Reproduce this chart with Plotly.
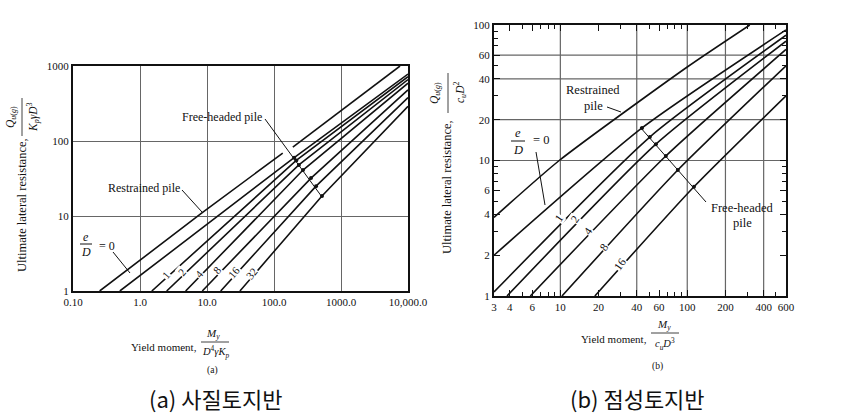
import plotly.graph_objects as go

W, H = 855, 419
SERIF = "Liberation Serif, Times New Roman, serif"
KR = "Noto Sans CJK KR, sans-serif"

# ---------------- (a) cohesionless soil ----------------
a_x_ticks = [0.1, 1, 10, 100, 1000, 10000]
a_x_ticktext = ["0.10", "1.0", "10.0", "100.0", "1000.0", "10,000.0"]
a_y_ticks = [1, 10, 100, 1000]
a_y_ticktext = ["1", "10", "100", "1000"]

a_rest_x = [0.25, 8.4, 135, None, 191, 7600]
a_rest_y = [1, 11, 69, None, 83, 1000]

a_ed = ["0", "1", "2", "4", "8", "16", "32"]
a_start_x = [0.5, 1.5, 2.5, 4.8, 8.5, 16, 31]
a_dot_x = [200, 215, 235, 271, 357, 424, 520]
a_dot_y = [60, 55, 48, 41, 32, 25, 18.5]
a_end_x = 10000
a_end_y = [780, 720, 660, 590, 480, 380, 290]

# ---------------- (b) cohesive soil ----------------
b_x_ticks = [3, 4, 6, 10, 20, 40, 60, 100, 200, 400, 600]
b_x_minor = [5, 7, 8, 9, 30, 50, 70, 80, 90, 300, 500]
b_y_ticks = [1, 2, 4, 6, 10, 20, 40, 60, 100]
b_y_minor = [3, 5, 7, 8, 9, 30, 50, 70, 80, 90]
b_vgrid = [10, 40, 100, 200, 400]
b_hgrid = [10, 20, 40, 60]

b_rest_x = [3, 9.8, 100, 311]
b_rest_y = [3.8, 10, 49, 100]

b_ed = ["0", "1", "2", "4", "8", "16"]
b_start_x = [3, 3, 3.8, 5.8, 10.3, 18.7]
b_start_y = [2.0, 1.07, 1, 1, 1, 1]
b_dot_x = [44, 50.7, 56.6, 67.8, 84.3, 113]
b_dot_y = [17.4, 14.9, 13.2, 10.8, 8.5, 6.4]
b_end_x = 600
b_end_y = [92, 84, 76, 66, 50, 30]

LINE = dict(color="#111", width=1.6)
SPL = dict(color="#111", width=1.6, shape="spline", smoothing=0.6)
GRID = "#666666"

fig = go.Figure()

# (b) grid lines (only at selected values)
gx, gy = [], []
for v in b_vgrid:
    gx += [v, v, None]
    gy += [1, 100, None]
for v in b_hgrid:
    gx += [3, 600, None]
    gy += [v, v, None]
fig.add_trace(go.Scatter(x=gx, y=gy, mode="lines", line=dict(color=GRID, width=1.2),
                         xaxis="x2", yaxis="y2", hoverinfo="skip", showlegend=False))

# (a) curves
fig.add_trace(go.Scatter(x=a_rest_x, y=a_rest_y, mode="lines", line=LINE,
                         xaxis="x", yaxis="y", showlegend=False, name="Restrained pile"))
for i, e in enumerate(a_ed):
    fig.add_trace(go.Scatter(x=[a_start_x[i], a_dot_x[i], a_end_x],
                             y=[1, a_dot_y[i], a_end_y[i]], mode="lines", line=LINE,
                             xaxis="x", yaxis="y", showlegend=False, name="e/D=" + e))
fig.add_trace(go.Scatter(x=a_dot_x, y=a_dot_y, mode="markers",
                         marker=dict(color="#111", size=4), xaxis="x", yaxis="y", showlegend=False))

# (b) curves
fig.add_trace(go.Scatter(x=b_rest_x, y=b_rest_y, mode="lines", line=SPL,
                         xaxis="x2", yaxis="y2", showlegend=False, name="Restrained pile"))
for i, e in enumerate(b_ed):
    fig.add_trace(go.Scatter(x=[b_start_x[i], b_dot_x[i], b_end_x],
                             y=[b_start_y[i], b_dot_y[i], b_end_y[i]], mode="lines", line=SPL,
                             xaxis="x2", yaxis="y2", showlegend=False, name="e/D=" + e))
fig.add_trace(go.Scatter(x=b_dot_x, y=b_dot_y, mode="markers",
                         marker=dict(color="#111", size=4), xaxis="x2", yaxis="y2", showlegend=False))


def px(x):
    return x / W


def py(y):
    return 1 - y / H


annotations = []
shapes = []


def ann(text, x, y, size=12, angle=0, font=SERIF, bg=None, xanchor="center"):
    d = dict(text=text, x=px(x), y=py(y), xref="paper", yref="paper", showarrow=False,
             font=dict(family=font, size=size, color="#111"), textangle=angle,
             xanchor=xanchor, yanchor="middle")
    if bg:
        d["bgcolor"] = bg
        d["borderpad"] = 0
    annotations.append(d)


def seg(x0, y0, x1, y1, w=1.0):
    shapes.append(dict(type="line", xref="paper", yref="paper", x0=px(x0), y0=py(y0),
                       x1=px(x1), y1=py(y1), line=dict(color="#111", width=w)))


# ---- (a) labels ----
ann("Free-headed pile", 222, 117)
seg(265, 119, 322, 197)
ann("Restrained pile", 144, 188)
seg(182, 190, 202, 212)
ann("<i>e</i>", 86, 237)
seg(80, 244, 92, 244)
ann("<i>D</i>", 86, 252)
ann("= 0", 107, 246)
seg(113, 252, 130, 273)
for t, (x, y) in zip(a_ed[1:], [(166, 275), (182, 272), (199, 274), (217, 270), (234, 272), (252, 273)]):
    ann(t, x, y, size=11, angle=-50, bg="white")

# axis titles (a)
ann("Ultimate lateral resistance,", 22, 205, size=12.5, angle=-90)
ann("<i>Q</i><sub><i>u</i>(<i>g</i>)</sub>", 11, 117, size=11.5, angle=-90)
seg(22, 98, 22, 136, 0.8)
ann("<i>K<sub>p</sub>γD</i><sup>3</sup>", 33, 117, size=11.5, angle=-90)

ann("Yield moment,", 199, 347, size=11, xanchor="right")
ann("<i>M<sub>y</sub></i>", 213, 334, size=11)
seg(201, 342, 229, 342, 0.8)
ann("<i>D</i><sup>4</sup><i>γK<sub>p</sub></i>", 215, 352, size=10.5)
ann("(a)", 212, 370, size=9.5)

# ---- (b) labels ----
ann("Restrained", 593, 90, size=12.5)
ann("pile", 593, 106, size=12.5)
seg(607, 107, 621, 112)
ann("Free-headed", 742, 208, size=12.5)
ann("pile", 742, 223, size=12.5)
seg(640, 127, 706, 202)
ann("<i>e</i>", 518, 133, size=12.5)
seg(511, 141, 525, 141)
ann("<i>D</i>", 518, 150, size=12.5)
ann("= 0", 541, 140, size=12.5)
seg(536, 152, 545, 205)
for t, (x, y) in zip(b_ed[1:], [(559, 218), (575, 219), (588, 231), (604, 247), (620, 264)]):
    ann(t, x, y, size=11.5, angle=-55, bg="white")

ann("Ultimate lateral resistance,", 447, 187, size=12.5, angle=-90)
ann("<i>Q</i><sub><i>u</i>(<i>g</i>)</sub>", 435, 93, size=11.5, angle=-90)
seg(448, 73, 448, 113, 0.8)
ann("<i>c<sub>u</sub>D</i><sup>2</sup>", 460, 93, size=11.5, angle=-90)

ann("Yield moment,", 649, 339, size=11, xanchor="right")
ann("<i>M<sub>y</sub></i>", 664, 325, size=11)
seg(651, 333, 679, 333, 0.8)
ann("<i>c<sub>u</sub>D</i><sup>3</sup>", 665, 344, size=10.5)
ann("(b)", 657, 366, size=9.5)

# captions
ann("(a) 사질토지반", 215, 398, size=22, font=KR)
ann("(b) 점성토지반", 637, 398, size=22, font=KR)

AX = dict(type="log", showline=True, linecolor="#111", linewidth=2, mirror=True,
          tickfont=dict(family=SERIF, size=11, color="#111"), zeroline=False, automargin=False)

layout = dict(
    width=W, height=H, margin=dict(l=0, r=0, t=0, b=0, pad=0, autoexpand=False),
    paper_bgcolor="white", plot_bgcolor="white", showlegend=False,
    xaxis=dict(AX, domain=[73 / W, 408 / W], range=[-1, 4], tickvals=a_x_ticks,
               ticktext=a_x_ticktext, showgrid=True, gridcolor=GRID, gridwidth=1.2,
               ticks="", anchor="y"),
    yaxis=dict(AX, domain=[1 - 291 / H, 1 - 66 / H], range=[0, 3], tickvals=a_y_ticks,
               ticktext=a_y_ticktext, showgrid=True, gridcolor=GRID, gridwidth=1.2,
               ticks="", anchor="x"),
    xaxis2=dict(AX, domain=[494 / W, 786 / W], range=[0.47712, 2.77815], tickvals=b_x_ticks,
                ticktext=[str(v) for v in b_x_ticks], showgrid=False, ticks="inside",
                ticklen=6, tickcolor="#111", mirror="ticks", anchor="y2",
                minor=dict(tickvals=b_x_minor, ticks="inside", ticklen=4, tickcolor="#111", showgrid=False)),
    yaxis2=dict(AX, domain=[1 - 296 / H, 1 - 25 / H], range=[0, 2], tickvals=b_y_ticks,
                ticktext=[str(v) for v in b_y_ticks], showgrid=False, ticks="inside",
                ticklen=6, tickcolor="#111", mirror="ticks", anchor="x2",
                minor=dict(tickvals=b_y_minor, ticks="inside", ticklen=4, tickcolor="#111", showgrid=False)),
    annotations=annotations, shapes=shapes,
)
fig.update_layout(**layout)
fig.write_html("out.html", config={"displayModeBar": False},
               post_script="document.body.style.margin='0';document.body.style.overflow='hidden';")
